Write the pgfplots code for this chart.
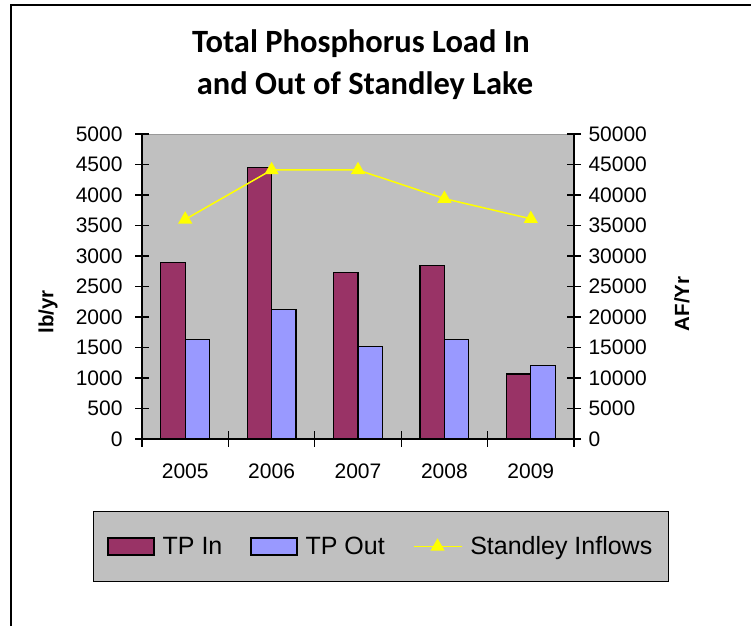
\documentclass[border=0pt]{standalone}
\usepackage{fontspec}
\setmainfont{Liberation Sans}
\newfontfamily\titlefont{Carlito}
\usepackage{pgfplots}
\pgfplotsset{compat=1.18}

\definecolor{tpin}{HTML}{993366}
\definecolor{tpout}{HTML}{9999FF}
\definecolor{plotgray}{HTML}{C0C0C0}
\definecolor{lineyellow}{HTML}{FFFF00}

\pgfplotsset{
  barlegend/.style={/pgfplots/legend image code/.code={\draw[##1] (0pt,-8.5pt) rectangle (46pt,8.5pt);}},
  linelegend/.style={/pgfplots/legend image code/.code={\draw[##1,mark repeat=2,mark phase=2] plot coordinates {(0pt,0pt) (24pt,0pt) (48pt,0pt)};}},
  chartbase/.style={
    at={(142pt,187pt)}, anchor=south west,
    scale only axis, width=432pt, height=305pt,
    xmin=-0.5, xmax=4.5, ymin=0,
    axis line style={black, line width=1.3pt},
    major tick length=14pt, tick align=center,
    tick style={black, line width=1.2pt},
    tick label style={font=\fontsize{21}{25}\selectfont},
    /pgf/number format/1000 sep={},
    /pgf/number format/assume math mode=true,
    scaled y ticks=false,
  },
}

\begin{document}
\begin{tikzpicture}[x=1pt,y=1pt]
\useasboundingbox (0,0) rectangle (751,626);
\draw[line width=2pt] (10.6,0) -- (10.6,621) -- (751,621);

\node[font=\titlefont\bfseries\fontsize{32.5}{38}\selectfont, anchor=base] at (361,573.3) {Total Phosphorus Load In};
\node[font=\titlefont\bfseries\fontsize{32.5}{38}\selectfont, anchor=base] at (365,531) {and Out of Standley Lake};

% left axis: phosphorus load
\begin{axis}[
  chartbase,
  ymax=5000,
  axis x line*=bottom, axis y line*=left,
  axis background/.style={fill=plotgray, draw=gray!80, line width=1pt},
  xtick={0,1,2,3,4}, xticklabels={2005,2006,2007,2008,2009},
  major x tick style={draw=none},
  minor xtick={-0.5,0.5,1.5,2.5,3.5,4.5},
  minor tick length=15pt,
  ytick={0,500,...,5000},
  xticklabel style={anchor=center, yshift=-25pt},
  yticklabel style={anchor=east, xshift=-9pt},
  ylabel={lb/yr},
  every axis y label/.style={at={(axis description cs:-0.2176,0.417)}, rotate=90, anchor=center, font=\bfseries\fontsize{20.5}{24}\selectfont},
]
\addplot[ybar, bar width=24.4pt, bar shift=-12.2pt, fill=tpin, draw=black, line width=1.2pt]
  coordinates {(0,2900) (1,4450) (2,2730) (3,2840) (4,1065)};
\addplot[ybar, bar width=24.4pt, bar shift=12.2pt, fill=tpout, draw=black, line width=1.2pt]
  coordinates {(0,1630) (1,2125) (2,1520) (3,1630) (4,1210)};
\end{axis}

% right axis: inflows
\begin{axis}[
  chartbase,
  ymax=50000,
  axis y line*=right, axis x line=none,
  ytick={0,5000,...,50000},
  yticklabel style={anchor=west, xshift=4pt},
  ylabel={AF/Yr},
  every axis y label/.style={at={(axis description cs:1.25,0.443)}, rotate=90, anchor=center, font=\bfseries\fontsize{20.5}{24}\selectfont},
  legend columns=3,
  legend style={at={(axis description cs:0.553,-0.3525)}, anchor=center,
    fill=plotgray, draw=black, line width=1pt,
    font=\fontsize{25}{30}\selectfont,
    inner xsep=14pt, inner ysep=23.5pt,
    nodes={inner sep=2pt},
    /tikz/every odd column/.append style={column sep=6pt},
    /tikz/every even column/.append style={column sep=26pt}},
]
\addlegendimage{barlegend, fill=tpin, draw=black, line width=1.2pt}
\addlegendentry{TP In}
\addlegendimage{barlegend, fill=tpout, draw=black, line width=1.2pt}
\addlegendentry{TP Out}
\addplot[linelegend, color=lineyellow, line width=1.5pt, mark=triangle*, mark size=6.7pt,
  mark options={fill=lineyellow, draw=lineyellow}]
  coordinates {(0,36000) (1,44100) (2,44100) (3,39400) (4,36100)};
\addlegendentry{Standley Inflows}
\end{axis}
\end{tikzpicture}
\end{document}
